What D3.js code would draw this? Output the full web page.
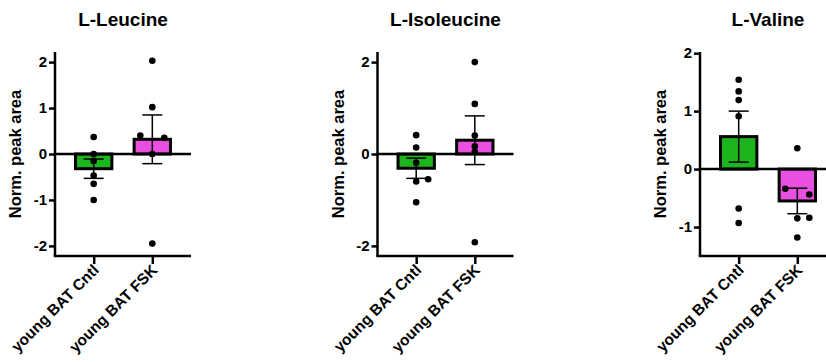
<!DOCTYPE html>
<html>
<head>
<meta charset="utf-8">
<script src="https://cdn.jsdelivr.net/npm/d3@7"></script>
<style>
  body { margin: 0; background: #fff; }
  svg { display: block; font-family: "Liberation Sans", Arial, sans-serif; font-weight: bold; }
</style>
</head>
<body>
<div id="chart"></div>
<script>
// values
const groups = ['young BAT Cntl', 'young BAT FSK'];
const titles = ['L-Leucine', 'L-Isoleucine', 'L-Valine'];
const colors = ['#1db51d', '#e94fe0'];

// bar heights (mean) and error bar half-widths (SEM), per panel: [Cntl, FSK]
const leucineMean = [-0.32, 0.32];
const leucineSem = [0.21, 0.53];
const isoleucineMean = [-0.31, 0.30];
const isoleucineSem = [0.22, 0.53];
const valineMean = [0.56, -0.55];
const valineSem = [0.44, 0.22];

// individual points: [value, slot] where slot -1 = left, 0 = centre, 1 = right
const leucineCntl = [[0.37, 0], [0, 0], [-0.15, 0], [-0.47, 0], [-0.65, 0], [-1.0, 0]];
const leucineFsk = [[2.03, 0], [1.02, 0], [0.40, -1], [0.35, 1], [0, 0], [-1.95, 0]];
const isoleucineCntl = [[0.41, 0], [0.14, 0], [-0.19, 0], [-0.60, 0], [-0.55, 1], [-1.05, 0]];
const isoleucineFsk = [[2.0, 0], [1.09, 0], [0.40, 0], [0.17, 0], [0.05, 0], [-1.92, 0]];
const valineCntl = [[1.54, 0], [1.34, 0], [1.19, 0], [0.91, 0], [-0.68, 0], [-0.93, 0]];
const valineFsk = [[0.36, 0], [-0.34, -1], [-0.44, 1], [-0.85, 0], [-0.84, 1], [-1.18, 0]];

// y axis setup per panel
const leucineTicks = [2, 1, 0, -1, -2];
const isoleucineTicks = [2, 0, -2];
const valineTicks = [2, 1, 0, -1];
const leucineDomain = [-2.22, 2.22];
const isoleucineDomain = [-2.22, 2.22];
const valineDomain = [-1.5, 2.02];

const panels = [
  { title: titles[0], mean: leucineMean, sem: leucineSem, pts: [leucineCntl, leucineFsk], ticks: leucineTicks, domain: leucineDomain, left: 55 },
  { title: titles[1], mean: isoleucineMean, sem: isoleucineSem, pts: [isoleucineCntl, isoleucineFsk], ticks: isoleucineTicks, domain: isoleucineDomain, left: 377.5 },
  { title: titles[2], mean: valineMean, sem: valineSem, pts: [valineCntl, valineFsk], ticks: valineTicks, domain: valineDomain, left: 700 }
];

const W = 826, H = 362;
const plotTop = 52, plotBottom = 256, plotW = 136;

const svg = d3.select('#chart').append('svg')
  .attr('width', W)
  .attr('height', H);

panels.forEach(function (p) {
  const g = svg.append('g').attr('transform', 'translate(' + p.left + ',0)');

  const y = d3.scaleLinear().domain(p.domain).range([plotBottom, plotTop]);
  const x = d3.scalePoint().domain(groups).range([0, plotW]).padding(0.66);
  const step = x.step();
  const barW = step * 0.62;

  // title
  g.append('text')
    .text(p.title)
    .attr('x', plotW / 2)
    .attr('y', 26)
    .attr('text-anchor', 'middle')
    .style('font-size', '19px');

  // y label
  g.append('text')
    .text('Norm. peak area')
    .attr('transform', 'translate(-34,' + ((plotTop + plotBottom) / 2) + ') rotate(-90)')
    .attr('text-anchor', 'middle')
    .style('font-size', '16.5px');

  // bars
  g.selectAll('rect.bar')
    .data(groups)
    .enter()
    .append('rect')
    .attr('class', 'bar')
    .attr('x', function (d) { return x(d) - barW / 2; })
    .attr('width', barW)
    .attr('y', function (d, i) { return Math.min(y(p.mean[i]), y(0)); })
    .attr('height', function (d, i) { return Math.abs(y(p.mean[i]) - y(0)); })
    .attr('fill', function (d, i) { return colors[i]; })
    .attr('stroke', '#000')
    .attr('stroke-width', 3);

  // error bars
  const err = g.selectAll('g.err')
    .data(groups)
    .enter()
    .append('g')
    .attr('class', 'err')
    .attr('stroke', '#000')
    .attr('stroke-width', 1.5);
  err.append('line')
    .attr('x1', function (d) { return x(d); })
    .attr('x2', function (d) { return x(d); })
    .attr('y1', function (d, i) { return y(p.mean[i] - p.sem[i]); })
    .attr('y2', function (d, i) { return y(p.mean[i] + p.sem[i]); });
  [-1, 1].forEach(function (s) {
    err.append('line')
      .attr('x1', function (d) { return x(d) - 10; })
      .attr('x2', function (d) { return x(d) + 10; })
      .attr('y1', function (d, i) { return y(p.mean[i] + s * p.sem[i]); })
      .attr('y2', function (d, i) { return y(p.mean[i] + s * p.sem[i]); });
  });

  // zero line
  g.append('line')
    .attr('x1', 0).attr('x2', plotW)
    .attr('y1', y(0)).attr('y2', y(0))
    .attr('stroke', '#000')
    .attr('stroke-width', 2.5);

  // points
  groups.forEach(function (grp, i) {
    g.selectAll('circle.pt' + i)
      .data(p.pts[i])
      .enter()
      .append('circle')
      .attr('cx', function (d) { return x(grp) + d[1] * 12; })
      .attr('cy', function (d) { return y(d[0]); })
      .attr('r', 3.3)
      .attr('fill', '#000');
  });

  // y axis
  const yAxis = g.append('g')
    .call(d3.axisLeft(y).tickValues(p.ticks).tickSize(6).tickPadding(2).tickFormat(function (d) { return String(d); }));
  yAxis.select('.domain').attr('d', 'M0,' + plotTop + 'V' + plotBottom).attr('stroke-width', 2.5);
  yAxis.selectAll('.tick line').attr('stroke-width', 2.5);
  yAxis.selectAll('.tick text')
    .style('font-size', '15px')
    .style('font-family', '"Liberation Sans", Arial, sans-serif')
    .style('font-weight', 'bold')
    .attr('fill', '#000');

  // x axis
  const xAxis = g.append('g')
    .attr('transform', 'translate(0,' + plotBottom + ')')
    .call(d3.axisBottom(x).tickSize(8).tickFormat(''));
  xAxis.select('.domain').attr('d', 'M-1.25,0H' + plotW).attr('stroke-width', 2.5);
  xAxis.selectAll('.tick line').attr('stroke-width', 2.5);

  g.selectAll('text.xlab')
    .data(groups)
    .enter()
    .append('text')
    .attr('class', 'xlab')
    .text(function (d) { return d; })
    .attr('transform', function (d) { return 'translate(' + (x(d) + 6) + ',' + (plotBottom + 15) + ') rotate(-45)'; })
    .attr('text-anchor', 'end')
    .style('font-size', '15.5px');
});
</script>
</body>
</html>
